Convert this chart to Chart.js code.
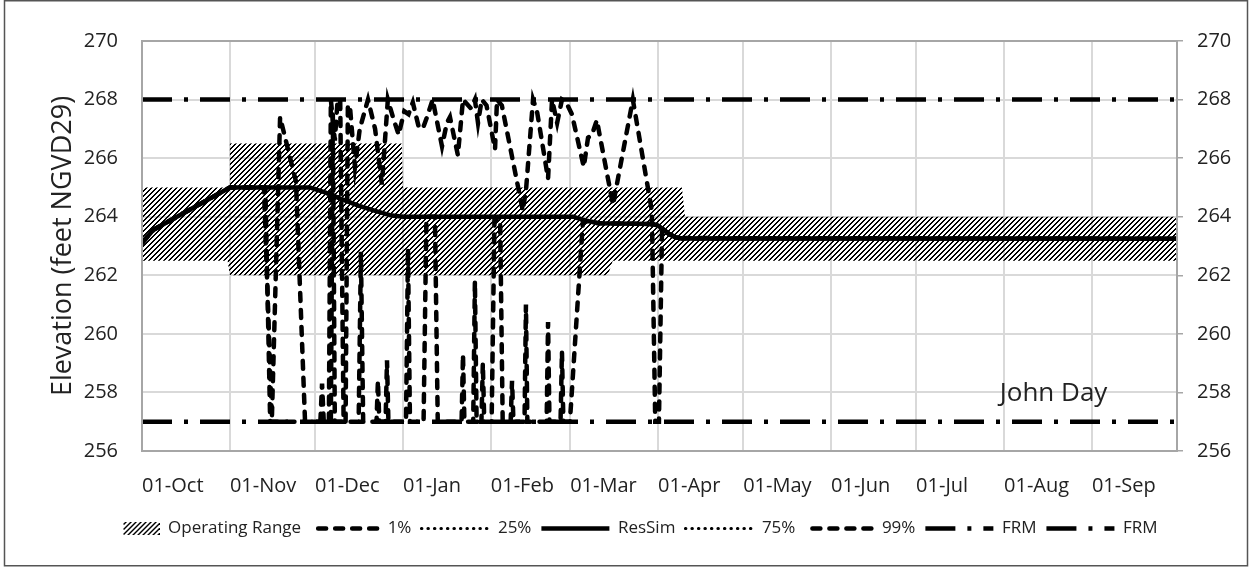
<!DOCTYPE html>
<html>
<head>
<meta charset="utf-8">
<script src="https://cdn.jsdelivr.net/npm/chart.js@4.4.0/dist/chart.umd.min.js"></script>
<style>
  html, body { margin: 0; padding: 0; background: #fff; }
  .chart-wrapper { position: relative; width: 1249px; height: 567px; }
</style>
</head>
<body>
<div class="chart-wrapper"><canvas id="elevChart"></canvas></div>
<script>
  // x values are days into the water year (0 = 01-Oct)
  const monthStarts = [0, 31, 61, 92, 123, 151, 182, 212, 243, 273, 304, 335];
  const monthLabels = ['01-Oct', '01-Nov', '01-Dec', '01-Jan', '01-Feb', '01-Mar',
    '01-Apr', '01-May', '01-Jun', '01-Jul', '01-Aug', '01-Sep'];

  // operating range band
  const rangeTopDays = [0, 30.8, 31, 91.6, 92, 190.4, 191.5, 365];
  const rangeTopVals = [265, 265, 266.5, 266.5, 265, 265, 264, 264];
  const rangeBotDays = [0, 30.2, 31, 164.3, 166, 365];
  const rangeBotVals = [262.5, 262.5, 262, 262, 262.5, 262.5];

  // ResSim
  const resSimDays = [0, 4, 31, 59.2, 64.5, 70.4, 76.3, 82.2, 88.1, 92.2, 152, 156, 161, 180, 182, 184, 186, 188, 190.5, 365];
  const resSimVals = [263.1, 263.55, 265, 265, 264.83, 264.6, 264.38, 264.2, 264.04, 264, 264, 263.88, 263.78, 263.75, 263.7, 263.55, 263.4, 263.3, 263.26, 263.25];

  // 25% / 75% (sit under the ResSim line)
  const p25Vals = [263.1, 263.55, 265, 265, 264.83, 264.6, 264.38, 264.2, 264.04, 264, 264, 263.88, 263.78, 263.75, 263.7, 263.55, 263.4, 263.3, 263.26, 263.25];
  const p75Vals = [263.1, 263.55, 265, 265, 264.83, 264.6, 264.38, 264.2, 264.04, 264, 264, 263.88, 263.78, 263.75, 263.7, 263.55, 263.4, 263.3, 263.26, 263.25];

  // 1%
  const p01Days = [0, 4, 31, 43.5, 45.2, 62.9, 63.5, 64.1, 66.6, 67.3, 68.0, 76.4, 77.2, 78.0, 82.7, 83.2, 83.7,
    85.9, 86.4, 86.9, 93.1, 93.8, 94.5, 99.3, 100.3, 103.3, 104.3, 112.7, 113.2, 113.7, 116.8, 117.4, 118.0,
    119.7, 120.2, 120.7, 123.3, 124.3, 126.3, 127.2, 130.0, 130.5, 131.0, 134.9, 135.4, 135.9, 142.7, 143.2,
    143.7, 147.6, 148.1, 148.6, 150.9, 155.5, 161, 180, 182, 184, 186, 188, 190.5, 365];
  const p01Vals = [263.1, 263.55, 265, 265, 257, 257, 258.3, 257, 257, 267.5, 257, 257, 262.8, 257, 257, 258.4, 257,
    257, 259.1, 257, 257, 262.9, 257, 257, 264, 264, 257, 257, 259.3, 257, 257, 261.8, 257,
    257, 259, 257, 257, 263.9, 263.9, 257, 257, 258.4, 257, 257, 261, 257, 257, 260.4,
    257, 257, 259.4, 257, 257, 263.85, 263.78, 263.75, 263.7, 263.55, 263.4, 263.3, 263.26, 263.25];

  // 99%
  const p99Days = [0, 4, 31, 43, 45.8, 48.7, 54.3, 57.5, 65.9, 66.6, 68.0, 69.0, 69.9, 71.1, 71.8, 72.6, 73.3,
    75.1, 76.8, 79.7, 82.2, 84.6, 86.7, 88.5, 90.5, 92.5, 94.0, 95.5, 97.5, 99.0, 100.5, 102.5, 105.8, 107.5,
    108.6, 111.4, 113.2, 116.0, 117.4, 118.5, 119.8, 121.5, 124.5, 125.2, 126.9, 134.3, 135.5, 137.9, 139.3,
    143.2, 144.6, 146.4, 148.1, 149.6, 151.6, 155.8, 157.3, 158.7, 160.4, 166.1, 173.1, 179.8, 181.0, 182.3,
    183.4, 186.0, 188.0, 190.5, 365];
  const p99Vals = [263.1, 263.55, 265, 265, 257.1, 267.4, 265.2, 257, 257, 268, 266.6, 268, 268, 257, 257, 267.8, 267.8,
    265.7, 267, 268, 267, 265.1, 268, 267.4, 266.8, 267.6, 267.5, 267.9, 267.1, 267, 267.4, 268, 266.4, 267.2,
    267.4, 266.1, 268, 267.7, 268, 267.2, 268, 267.8, 266.3, 268, 267.8, 264.2, 265, 268, 267.6,
    265.3, 268, 267.2, 268, 267.9, 267.5, 265.7, 266.7, 266.8, 267.3, 264.4, 268, 264.2, 257, 257,
    263.6, 263.4, 263.32, 263.27, 263.25];

  // flood risk management lines
  const frmDays = [0, 365];
  const frmHighVals = [268, 268];
  const frmLowVals = [257, 257];

  const textColor = '#222';
  const gridColor = '#d9d9d9';
  const frameColor = '#a6a6a6';
  Chart.defaults.font.family = '"Open Sans", sans-serif';
  Chart.defaults.color = textColor;

  function pts(days, vals) {
    return days.map((d, i) => ({ x: d, y: vals[i] }));
  }

  // hatch tile, "/" diagonal
  function makeHatchTile() {
    const c = document.createElement('canvas');
    c.width = 5; c.height = 5;
    const g = c.getContext('2d');
    g.fillStyle = '#000';
    for (let x = 0; x < 5; x++) {
      for (let y = 0; y < 5; y++) {
        const k = (x + y) % 5;
        if (k === 3 || k === 4) g.fillRect(x, y, 1, 1);
      }
    }
    return c;
  }
  const hatchTile = makeHatchTile();
  const hatchPattern = document.createElement('canvas').getContext('2d').createPattern(hatchTile, 'repeat');

  // legend swatch for the band
  const hatchSwatch = document.createElement('canvas');
  hatchSwatch.width = 68; hatchSwatch.height = 13;
  (function () {
    const g = hatchSwatch.getContext('2d');
    g.fillStyle = g.createPattern(hatchTile, 'repeat');
    g.fillRect(32, 0, 36, 13);
  })();

  const lineBase = { pointRadius: 0, pointHoverRadius: 0, tension: 0, fill: false, borderColor: '#000' };

  const datasets = [
    { ...lineBase, label: 'Operating Range', data: pts(rangeTopDays, rangeTopVals), borderWidth: 0,
      borderColor: 'rgba(0,0,0,0)', backgroundColor: hatchPattern, fill: '+1', order: 10, swatch: 'hatch' },
    { ...lineBase, label: '', data: pts(rangeBotDays, rangeBotVals), borderWidth: 0,
      borderColor: 'rgba(0,0,0,0)', order: 10 },
    { ...lineBase, label: '1%', data: pts(p01Days, p01Vals), borderWidth: 4.5,
      borderDash: [8, 9], borderCapStyle: 'round', order: 3, legendDashOffset: 10 },
    { ...lineBase, label: '25%', data: pts(resSimDays, p25Vals), borderWidth: 3,
      borderDash: [0.5, 6], borderCapStyle: 'round', order: 2 },
    { ...lineBase, label: 'ResSim', data: pts(resSimDays, resSimVals), borderWidth: 4.5, order: 0 },
    { ...lineBase, label: '75%', data: pts(resSimDays, p75Vals), borderWidth: 3,
      borderDash: [0.5, 6], borderCapStyle: 'round', order: 2 },
    { ...lineBase, label: '99%', data: pts(p99Days, p99Vals), borderWidth: 4.5,
      borderDash: [8, 9], borderCapStyle: 'round', order: 3, legendDashOffset: 10 },
    { ...lineBase, label: 'FRM', data: pts(frmDays, frmHighVals), borderWidth: 4.5,
      borderDash: [30, 12, 4, 12], order: 5 },
    { ...lineBase, label: 'FRM', data: pts(frmDays, frmLowVals), borderWidth: 4.5,
      borderDash: [30, 12, 4, 12], order: 5 },
  ];

  const frame = {
    id: 'frame',
    afterDraw(chart) {
      const { ctx, chartArea: a } = chart;
      ctx.save();
      ctx.strokeStyle = frameColor;
      ctx.lineWidth = 2;
      ctx.strokeRect(a.left, a.top, a.right - a.left, a.bottom - a.top);
      ctx.strokeStyle = '#555';
      ctx.lineWidth = 1.5;
      ctx.strokeRect(4.5, 0.75, 1243, 565);
      ctx.restore();
    }
  };

  const siteLabel = {
    id: 'siteLabel',
    afterDatasetsDraw(chart) {
      const { ctx, scales: { x, y } } = chart;
      ctx.save();
      ctx.font = '26px "Open Sans"';
      ctx.fillStyle = textColor;
      ctx.textBaseline = 'middle';
      ctx.fillText('John Day', x.getPixelForValue(302.5), y.getPixelForValue(257.95));
      ctx.restore();
    }
  };

  new Chart(document.getElementById('elevChart'), {
    type: 'line',
    data: { datasets },
    options: {
      responsive: true,
      maintainAspectRatio: false,
      animation: false,
      layout: { padding: { top: 41, left: 0, right: 0, bottom: 20 } },
      plugins: {
        tooltip: { enabled: false },
        legend: {
          position: 'bottom',
          labels: {
            usePointStyle: true,
            pointStyleWidth: 68,
            padding: 10,
            color: textColor,
            font: { size: 17 },
            generateLabels: chart => chart.data.datasets.map((ds, i) => ({
              text: ds.label,
              datasetIndex: i,
              hidden: false,
              pointStyle: ds.swatch === 'hatch' ? hatchSwatch : 'line',
              strokeStyle: ds.borderColor,
              fillStyle: 'rgba(0,0,0,0)',
              lineWidth: ds.borderWidth,
              lineDash: ds.borderDash || [],
              lineDashOffset: ds.legendDashOffset || 0,
              lineCap: ds.borderCapStyle || 'butt',
              fontColor: textColor,
            })).filter(item => item.text)
          }
        }
      },
      scales: {
        x: {
          type: 'linear',
          min: 0,
          max: 365,
          afterBuildTicks: scale => { scale.ticks = monthStarts.map(v => ({ value: v })); },
          afterFit: scale => { scale.height = 59; },
          grid: { color: gridColor, lineWidth: 2, drawTicks: false },
          border: { display: false },
          ticks: {
            autoSkip: false,
            maxRotation: 0,
            align: 'start',
            padding: 23,
            font: { size: 20 },
            callback: v => monthLabels[monthStarts.indexOf(v)]
          }
        },
        y: {
          position: 'left',
          min: 256,
          max: 270,
          afterFit: scale => { scale.width = 142; },
          grid: { color: gridColor, lineWidth: 2, drawTicks: false },
          border: { display: false },
          ticks: { stepSize: 2, padding: 24, font: { size: 20 } },
          title: {
            display: true,
            text: 'Elevation (feet NGVD29)',
            font: { size: 27 },
            padding: { top: 47, bottom: 0 }
          }
        },
        y2: {
          position: 'right',
          min: 256,
          max: 270,
          afterFit: scale => { scale.width = 72; },
          grid: { drawOnChartArea: false, drawTicks: true, tickLength: 6, color: frameColor, lineWidth: 1.5 },
          border: { display: false },
          ticks: { stepSize: 2, padding: 14, font: { size: 20 } }
        }
      }
    },
    plugins: [frame, siteLabel]
  });
</script>
</body>
</html>
